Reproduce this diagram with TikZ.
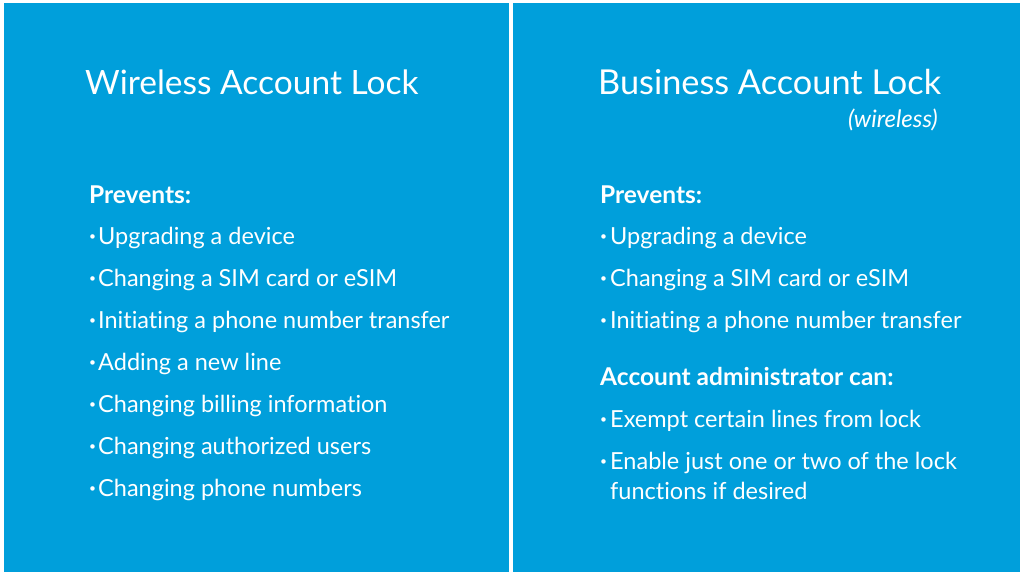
\documentclass[tikz,border=0pt]{standalone}
\usepackage{fontspec}
\setmainfont{Lato}[Ligatures=NoCommon]
\definecolor{attblue}{HTML}{009FDB}
\begin{document}
\begin{tikzpicture}[x=1pt,y=-1pt,
  panel/.style={fill=attblue,draw=none},
  title/.style={anchor=base west,text=white,inner sep=0pt,font=\fontsize{33.5}{40}\selectfont},
  head/.style={anchor=base west,text=white,inner sep=0pt,font=\bfseries\fontsize{24.5}{28}\selectfont},
  item/.style={anchor=base west,text=white,inner sep=0pt,font=\fontsize{23.5}{28}\selectfont},
  dot/.style={anchor=base west,text=white,inner sep=0pt,font=\fontsize{12}{14}\selectfont}]
\useasboundingbox (0,0) rectangle (1024,576);
\fill[white] (0,0) rectangle (1024,576);
\path[panel] (4,3) rectangle (509,572);
\path[panel] (513,3) rectangle (1020,572);
% left
\node[title] (lt) at (85,94) {Wireless Account Lock};
\node[head] (lp) at (89,203) {Prevents:};
\foreach \t [count=\i from 0] in {Upgrading a device,Changing a SIM card or eSIM,Initiating a phone number transfer,Adding a new line,Changing billing information,Changing authorized users,Changing phone numbers}{
  \node[dot] (ld\i) at (89,{244+42*\i-4}) {•};
  \node[item] (li\i) at (98,{244+42*\i}) {\t};
}
% right
\node[title,font=\fontsize{34.3}{40}\selectfont] (rt) at (598,94) {Business Account Lock};
\node[anchor=base east,text=white,inner sep=0pt,font=\itshape\fontsize{24}{28}\selectfont] (rw) at (938,127) {(wireless)};
\node[head] (rp) at (600,203) {Prevents:};
\foreach \t [count=\i from 0] in {Upgrading a device,Changing a SIM card or eSIM,Initiating a phone number transfer}{
  \node[dot] (rd\i) at (600,{244+42*\i-4}) {•};
  \node[item] (ri\i) at (610,{244+42*\i}) {\t};
}
\node[head] (ra) at (600,385) {Account administrator can:};
\node[dot] (re0) at (600,423) {•};
\node[item] (rx0) at (610,427) {Exempt certain lines from lock};
\node[dot] (re1) at (600,465) {•};
\node[item] (rx1) at (610,469) {Enable just one or two of the lock};
\node[item] (rx2) at (610,499) {functions if desired};
\end{tikzpicture}
\end{document}
